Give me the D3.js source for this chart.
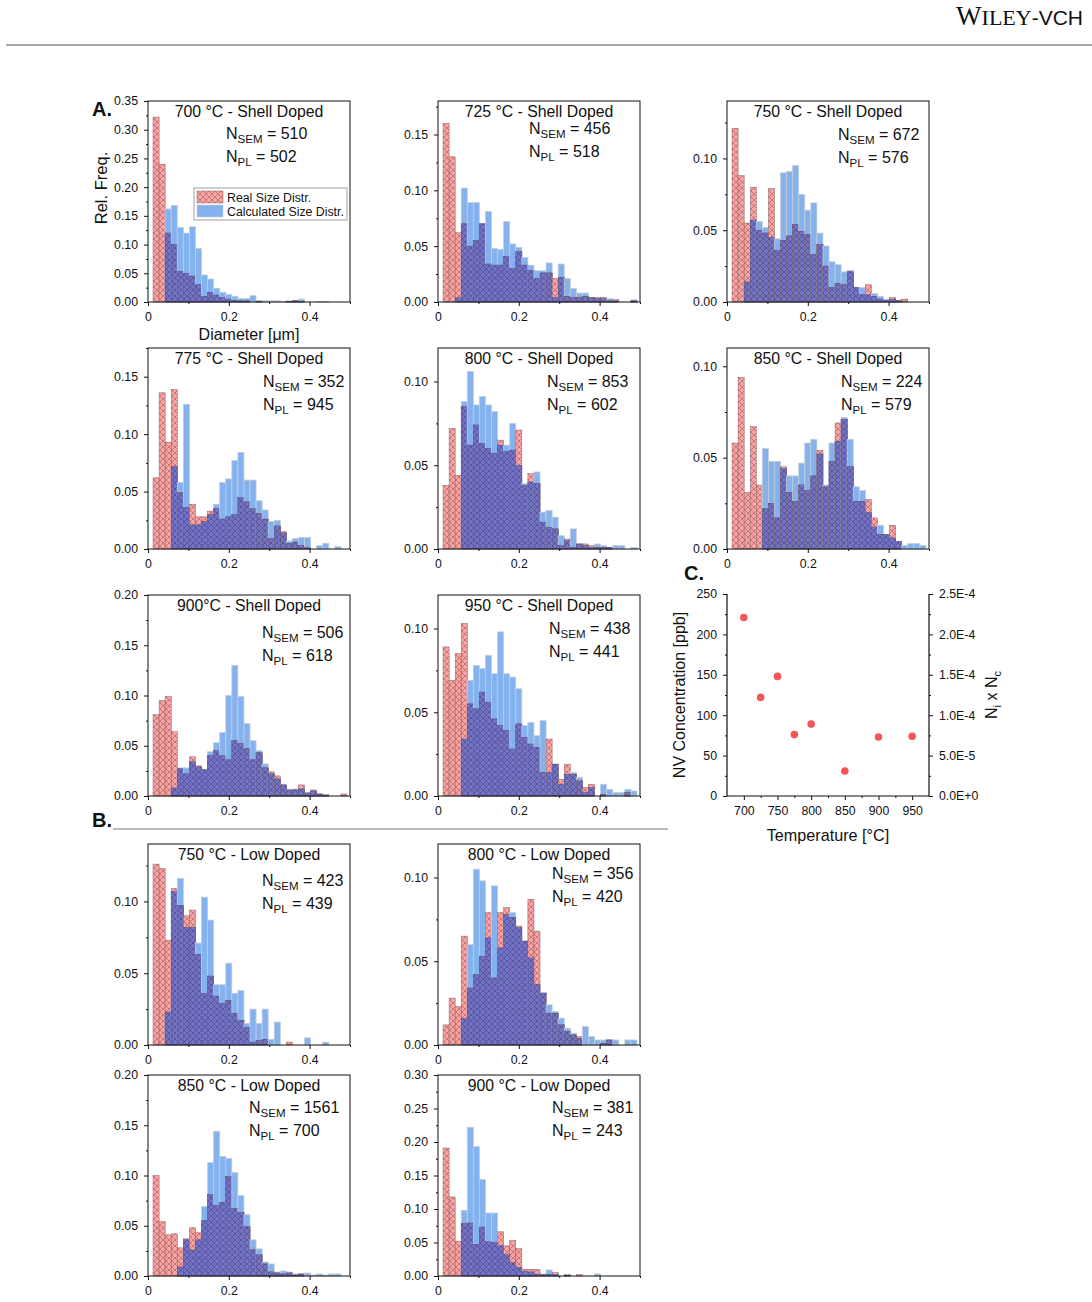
<!DOCTYPE html>
<html>
<head>
<meta charset="utf-8">
<script src="https://cdn.jsdelivr.net/npm/d3@7"></script>
<style>
  body { margin: 0; background: #fff; }
  svg text { font-family: "Liberation Sans", Arial, sans-serif; fill: #111; }
</style>
</head>
<body>
<div id="figure"></div>
<script>
// ---- data ----
// histogram bins: 32 bins of 0.015 um starting at 0.0125 um
const binStart = 0.0125;
const binWidth = 0.015;

const panelTitles = [
  '700 °C - Shell Doped', '725 °C - Shell Doped', '750 °C - Shell Doped',
  '775 °C - Shell Doped', '800 °C - Shell Doped', '850 °C - Shell Doped',
  '900°C - Shell Doped', '950 °C - Shell Doped',
  '750 °C - Low Doped', '800 °C - Low Doped', '850 °C - Low Doped', '900 °C - Low Doped'
];
const nSem = [510, 456, 672, 352, 853, 224, 506, 438, 423, 356, 1561, 381];
const nPl = [502, 518, 576, 945, 602, 579, 618, 441, 439, 420, 700, 243];
const yMax = [0.35, 0.18, 0.14, 0.175, 0.12, 0.11, 0.20, 0.12, 0.14, 0.12, 0.20, 0.30];

// red: real size distribution (SEM)
const realDistr = [
  [.322,.240,.120,.100,.053,.050,.045,.030,.010,.017,.012,.008,.005,.003,.002,.002,0,.001,0,0,0,0,.001,.003,.001,0,0,0,0,0,0,0],
  [.160,.130,.062,.070,.050,.055,.070,.034,.033,.033,.041,.030,.045,.033,.028,.021,.026,.026,.021,.022,.005,.004,.004,.005,.004,.004,.004,.001,.002,0,0,.001],
  [.121,.088,.055,.080,.050,.048,.079,.036,.043,.046,.054,.049,.047,.033,.040,.025,.010,.013,.012,.021,.010,.005,.012,.004,.002,.001,.003,.001,.002,0,0,0],
  [.062,.136,.093,.139,.049,.036,.039,.028,.028,.033,.035,.026,.028,.030,.045,.041,.035,.031,.026,.009,.020,.015,.005,.006,.003,.001,0,0,0,0,0,0],
  [.038,.072,.044,.085,.062,.074,.063,.060,.057,.065,.058,.059,.071,.038,.045,.039,.016,.013,.012,.002,.006,.001,.003,.003,.002,.001,.001,.001,0,0,0,0],
  [.058,.094,.031,.067,.035,.022,.025,.017,.045,.031,.026,.035,.032,.040,.054,.034,.048,.069,.071,.045,.026,.026,.027,.017,.008,.008,.013,.004,0,0,0,0],
  [.081,.095,.099,.064,.027,.022,.039,.030,.026,.040,.045,.040,.036,.055,.052,.047,.036,.043,.028,.024,.020,.011,.006,.006,.011,.003,.006,.002,.001,0,0,.002],
  [.089,.069,.085,.103,.055,.052,.062,.056,.046,.042,.039,.028,.043,.035,.031,.029,.014,.034,.019,.010,.019,.013,.009,.005,.007,0,.001,0,0,0,.002,0],
  [.126,.123,.073,.109,.097,.090,.094,.063,.036,.048,.034,.029,.031,.022,.017,.012,.002,.003,.004,0,0,0,.002,0,0,0,0,0,0,0,0,0],
  [.012,.028,.023,.065,.034,.042,.053,.079,.040,.079,.082,.076,.071,.062,.087,.068,.031,.019,.019,.012,.008,.006,.005,0,0,0,.001,.003,0,0,0,0],
  [.100,.054,.041,.042,.028,.037,.048,.043,.055,.081,.070,.073,.099,.067,.063,.049,.026,.021,.012,.004,.003,.002,.003,.001,.002,0,0,0,0,0,0,0],
  [.191,.118,.052,.078,.079,.047,.073,.051,.050,.066,.045,.053,.041,.010,.010,.010,.002,.002,.005,0,.002,0,.002,0,0,0,0,0,0,0,0,0]
];
// blue: calculated size distribution (PL)
const calcDistr = [
  [0,0,.162,.168,.130,.120,.131,.093,.047,.040,.024,.017,.013,.010,.006,.006,.011,.003,.002,.002,.002,.001,.002,.002,.005,0,0,.001,.001,0,0,0],
  [0,0,.004,.102,.089,.089,.070,.081,.048,.047,.072,.052,.049,.040,.033,.028,.028,.035,.004,.034,.021,.012,.008,.008,.004,.003,.003,.003,.001,0,0,.002],
  [0,0,.014,.057,.056,.052,.045,.044,.090,.091,.095,.075,.064,.069,.048,.039,.028,.026,.021,.022,.010,.010,.005,.006,.004,.002,.002,.001,0,0,0,0],
  [0,0,0,.072,.058,.126,.021,.021,.024,.030,.039,.058,.061,.077,.084,.060,.060,.042,.034,.024,.025,.014,.007,.009,.010,.010,0,.003,.005,0,.002,0],
  [0,0,0,.088,.106,.086,.091,.086,.082,.062,.062,.075,.050,.039,.040,.046,.022,.023,.019,.008,.005,.012,.003,.002,.001,.003,.002,.001,.002,.002,0,.001],
  [0,0,0,0,0,.055,.048,.048,.044,.040,.040,.047,.058,.060,.052,.035,.058,.059,.072,.060,.034,.032,.020,.012,.013,.008,.006,.004,.002,.003,.003,.002],
  [0,0,0,.008,.028,.028,.034,.029,.026,.044,.053,.063,.100,.130,.099,.072,.055,.045,.032,.022,.017,.011,.006,.007,.007,.003,.005,.002,.001,0,0,0],
  [0,0,0,.034,.069,.078,.076,.084,.073,.098,.073,.071,.064,.042,.044,.036,.045,.014,.019,.007,.013,.014,.011,.002,.005,0,.007,.004,.002,.002,.004,.003],
  [0,0,.023,.107,.116,.082,.082,.071,.103,.087,.042,.042,.057,.036,.038,.015,.025,.015,.025,.004,.016,0,0,0,0,.005,0,0,.002,0,0,0],
  [0,0,0,.016,.060,.105,.098,.064,.095,.058,.078,.079,.070,.062,.052,.036,.031,.024,.020,.016,.010,.007,.004,.011,.005,.003,.003,.003,.003,0,.003,.003],
  [0,0,0,0,.009,.036,.026,.036,.069,.113,.144,.119,.117,.103,.080,.061,.036,.027,.014,.012,.004,.005,.004,.002,.002,.003,.001,.002,.001,.002,.002,0],
  [0,0,0,.098,.222,.193,.144,.094,.094,.045,.032,.020,.013,.007,.006,.003,.003,.009,.002,0,.001,0,0,0,0,.003,0,0,0,0,0,0]
];

// panel C
const temperatures = [700, 725, 750, 775, 800, 850, 900, 950];
const nvConcentration = [221, 122, 148, 76, 89, 31, 73, 74];

// ---- layout ----
const W = 1092, H = 1302;
const colX = [148, 438, 727];
const rowY = [101, 348, 595, 844, 1075];
const pw = 202, ph = 201;
const panelPos = [[0,0],[1,0],[2,0],[0,1],[1,1],[2,1],[0,2],[1,2],[0,3],[1,3],[0,4],[1,4]];
// left offset / baseline offset of the N labels in each panel
const nLabelPos = [[78,38],[91,33],[111,39],[115,39],[109,39],[114,39],[114,43],[111,39],[114,42],[114,35],[101,38],[114,38]];

const svg = d3.select('#figure').append('svg')
  .attr('width', W).attr('height', H);

const defs = svg.append('defs');
function hatch(id, bg, line) {
  const p = defs.append('pattern').attr('id', id)
    .attr('patternUnits', 'userSpaceOnUse').attr('width', 6).attr('height', 6);
  p.append('rect').attr('width', 6).attr('height', 6).attr('fill', bg);
  p.append('path').attr('d', 'M0,0L6,6M6,0L0,6M-1,5L1,7M5,-1L7,1')
    .attr('stroke', line).attr('stroke-width', 0.5);
}
hatch('hRed', '#f6a4a4', '#a04848');
hatch('hPurple', '#7472c4', '#3a3a78');
const blueFill = '#84b2ee';

// header
svg.append('line').attr('x1', 6).attr('x2', W).attr('y1', 45).attr('y2', 45)
  .attr('stroke', '#555').attr('stroke-width', 1);
const logo = svg.append('text').attr('x', 1083).attr('y', 25).attr('text-anchor', 'end');
logo.append('tspan').style('font-family', '"Liberation Serif", serif').attr('font-size', 27).text('W');
logo.append('tspan').style('font-family', '"Liberation Serif", serif').attr('font-size', 22).text('ILEY');
logo.append('tspan').attr('font-size', 21).text('-VCH');

const x = d3.scaleLinear().domain([0, 0.5]).range([0, pw]);
const bins = d3.range(realDistr[0].length);

function styleAxis(a) {
  a.select('.domain').remove();
  a.selectAll('line').attr('stroke', '#111');
  a.selectAll('text').attr('font-size', 12.3).style('font-family', '"Liberation Sans", Arial');
}

panelTitles.forEach((title, i) => {
  const [c, r] = panelPos[i];
  const g = svg.append('g').attr('transform', `translate(${colX[c]},${rowY[r]})`);
  const y = d3.scaleLinear().domain([0, yMax[i]]).range([ph, 0]);
  const red = realDistr[i], blue = calcDistr[i];

  const bars = g.append('g').selectAll('g').data(bins).join('g');
  // calculated distribution
  bars.filter(k => blue[k] > 0).append('rect')
    .attr('x', k => x(binStart + k * binWidth))
    .attr('width', x(binWidth) - x(0))
    .attr('y', k => y(blue[k]))
    .attr('height', k => ph - y(blue[k]))
    .attr('fill', blueFill).attr('stroke', '#c4ccd8').attr('stroke-width', 0.8);
  // real distribution
  bars.filter(k => red[k] > 0).append('rect')
    .attr('x', k => x(binStart + k * binWidth))
    .attr('width', x(binWidth) - x(0))
    .attr('y', k => y(red[k]))
    .attr('height', k => ph - y(red[k]))
    .attr('fill', 'url(#hRed)').attr('stroke', '#8a6464').attr('stroke-width', 0.5);
  // overlap
  bars.filter(k => Math.min(red[k], blue[k]) > 0).append('rect')
    .attr('x', k => x(binStart + k * binWidth))
    .attr('width', x(binWidth) - x(0))
    .attr('y', k => y(Math.min(red[k], blue[k])))
    .attr('height', k => ph - y(Math.min(red[k], blue[k])))
    .attr('fill', 'url(#hPurple)').attr('stroke', '#55557a').attr('stroke-width', 0.5);

  // frame
  g.append('rect').attr('width', pw).attr('height', ph)
    .attr('fill', 'none').attr('stroke', '#111').attr('stroke-width', 1);

  // axes
  const major = d3.range(0, yMax[i] + 1e-9, 0.05);
  const minor = d3.range(0.025, yMax[i] + 1e-9, 0.05);
  styleAxis(g.append('g').call(d3.axisLeft(y).tickValues(major)
      .tickFormat(d3.format('.2f')).tickSize(4).tickPadding(6)));
  styleAxis(g.append('g').call(d3.axisLeft(y).tickValues(minor)
      .tickFormat('').tickSize(2)));
  styleAxis(g.append('g').attr('transform', `translate(0,${ph})`)
    .call(d3.axisBottom(x).tickValues([0, 0.2, 0.4]).tickFormat(d3.format('~g'))
      .tickSize(4).tickPadding(6)));
  styleAxis(g.append('g').attr('transform', `translate(0,${ph})`)
    .call(d3.axisBottom(x).tickValues([0.1, 0.3, 0.5]).tickFormat('').tickSize(2)));

  // texts
  g.append('text').attr('x', pw / 2).attr('y', 15.5).attr('text-anchor', 'middle')
    .attr('font-size', 15.8).text(title);
  const [lx, ly] = nLabelPos[i];
  const t1 = g.append('text').attr('x', lx).attr('y', ly).attr('font-size', 16);
  t1.append('tspan').text('N');
  t1.append('tspan').attr('font-size', 11.5).attr('dy', 4).text('SEM');
  t1.append('tspan').attr('dy', -4).text(' = ' + nSem[i]);
  const t2 = g.append('text').attr('x', lx).attr('y', ly + 23).attr('font-size', 16);
  t2.append('tspan').text('N');
  t2.append('tspan').attr('font-size', 11.5).attr('dy', 4).text('PL');
  t2.append('tspan').attr('dy', -4).text(' = ' + nPl[i]);
});

// legend in first panel
const lg = svg.append('g').attr('transform', 'translate(194,188)');
lg.append('rect').attr('width', 153).attr('height', 32)
  .attr('fill', '#fff').attr('stroke', '#888').attr('stroke-width', 0.8);
lg.append('rect').attr('x', 3).attr('y', 3).attr('width', 26).attr('height', 12)
  .attr('fill', 'url(#hRed)').attr('stroke', '#8a6464').attr('stroke-width', 0.5);
lg.append('rect').attr('x', 3).attr('y', 17).attr('width', 26).attr('height', 12)
  .attr('fill', blueFill).attr('stroke', '#c4ccd8').attr('stroke-width', 0.5);
lg.append('text').attr('x', 33).attr('y', 13.5).attr('font-size', 12.3).text('Real Size Distr.');
lg.append('text').attr('x', 33).attr('y', 27.5).attr('font-size', 12.3).text('Calculated Size Distr.');

// axis titles for panel A
svg.append('text').attr('transform', 'translate(107,188) rotate(-90)')
  .attr('text-anchor', 'middle').attr('font-size', 16.5).text('Rel. Freq.');
svg.append('text').attr('x', 249).attr('y', 339.5).attr('text-anchor', 'middle')
  .attr('font-size', 16).text('Diameter [μm]');

// panel letters
[['A.', 92, 116], ['B.', 92, 827], ['C.', 684, 580]].forEach(([t, lx, ly]) => {
  svg.append('text').attr('x', lx).attr('y', ly).attr('font-size', 20)
    .attr('font-weight', 'bold').text(t);
});
svg.append('line').attr('x1', 113).attr('x2', 668).attr('y1', 829).attr('y2', 829)
  .attr('stroke', '#777').attr('stroke-width', 1);

// ---- panel C ----
const cg = svg.append('g').attr('transform', 'translate(727,594)');
const cw = 202, ch = 202;
const tx = d3.scaleLinear().domain([675, 975]).range([0, cw]);
const cy = d3.scaleLinear().domain([0, 250]).range([ch, 0]);
const cy2 = d3.scaleLinear().domain([0, 2.5e-4]).range([ch, 0]);

const sciFmt = v => d3.format('.1e')(v).toUpperCase().replace(/E\+?(-?)(\d+)/, (m, s, n) => 'E' + (s || '+') + n);

[
  cg.append('g').call(d3.axisLeft(cy).tickValues(d3.range(0, 251, 50)).tickSize(4).tickPadding(6)),
  cg.append('g').call(d3.axisLeft(cy).tickValues(d3.range(25, 250, 50)).tickFormat('').tickSize(2)),
  cg.append('g').attr('transform', `translate(${cw},0)`)
    .call(d3.axisRight(cy2).tickValues(d3.range(0, 2.51e-4, 5e-5)).tickFormat(sciFmt).tickSize(4).tickPadding(6)),
  cg.append('g').attr('transform', `translate(${cw},0)`)
    .call(d3.axisRight(cy2).tickValues(d3.range(2.5e-5, 2.5e-4, 5e-5)).tickFormat('').tickSize(2)),
  cg.append('g').attr('transform', `translate(0,${ch})`)
    .call(d3.axisBottom(tx).tickValues(d3.range(700, 951, 50)).tickSize(4).tickPadding(6)),
  cg.append('g').attr('transform', `translate(0,${ch})`)
    .call(d3.axisBottom(tx).tickValues(d3.range(725, 951, 50)).tickFormat('').tickSize(2))
].forEach(styleAxis);
cg.append('path').attr('d', `M0,0V${ch}H${cw}V0`).attr('fill', 'none')
  .attr('stroke', '#111').attr('stroke-width', 1.2);

cg.selectAll('circle').data(temperatures).join('circle')
  .attr('cx', (d) => tx(d))
  .attr('cy', (d, i) => cy(nvConcentration[i]))
  .attr('r', 3.8)
  .attr('fill', '#f25656');

svg.append('text').attr('transform', 'translate(685,695) rotate(-90)')
  .attr('text-anchor', 'middle').attr('font-size', 16).text('NV Concentration [ppb]');
svg.append('text').attr('x', 828).attr('y', 840.5).attr('text-anchor', 'middle')
  .attr('font-size', 16.2).text('Temperature [°C]');
const rt = svg.append('text').attr('transform', 'translate(997,695) rotate(-90)')
  .attr('text-anchor', 'middle').attr('font-size', 16);
rt.append('tspan').text('N');
rt.append('tspan').attr('font-size', 11).attr('dy', 4).text('i');
rt.append('tspan').attr('dy', -4).text(' x N');
rt.append('tspan').attr('font-size', 11).attr('dy', 4).text('c');
</script>
</body>
</html>
